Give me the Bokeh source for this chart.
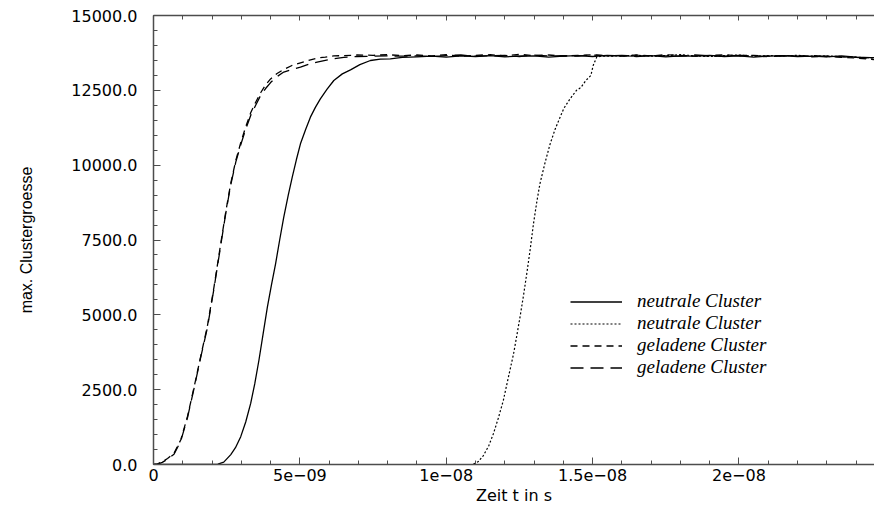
from bokeh.plotting import figure
from bokeh.models import (Range1d, FixedTicker, LinearAxis, PrintfTickFormatter)
from bokeh.embed import file_html
from bokeh.resources import INLINE

# ---- data (time in ns, size in cluster units) ----
T_NEUTRAL1 = [0.0, 2.0, 2.2, 2.4, 2.64, 2.8, 2.98, 3.15, 3.32, 3.46, 3.60, 3.75, 3.89, 4.03,
              4.17, 4.31, 4.45, 4.60, 4.74, 4.88, 5.02, 5.2, 5.36, 5.53, 5.70, 5.93, 6.16,
              6.45, 6.73, 7.05, 7.41, 7.75, 8.09, 8.5,
              9.0, 9.5, 10.0, 10.5, 11.0, 11.5, 12.0, 12.5, 13.0, 13.5, 14.0, 14.5, 15.0,
              15.5, 16.0, 16.5, 17.0, 17.5, 18.0, 18.5, 19.0, 19.5, 20.0, 20.5, 21.0, 21.5,
              22.0, 22.5, 23.0, 23.5, 24.0, 24.5, 24.7]
V_NEUTRAL1 = [0, 0, 10, 80, 330, 560, 930, 1420, 2040, 2700, 3474, 4400, 5256, 6000,
              6704, 7500, 8263, 8980, 9599, 10180, 10713, 11200, 11604, 11930, 12216, 12540, 12829,
              13050, 13185, 13360, 13497, 13540, 13552, 13600,
              13620, 13640, 13610, 13650, 13630, 13660, 13620, 13640, 13650, 13610, 13640, 13660, 13630,
              13670, 13650, 13640, 13660, 13620, 13650, 13640, 13670, 13630, 13650, 13610, 13640, 13660,
              13630, 13640, 13620, 13650, 13610, 13590, 13600]

T_NEUTRAL2 = [0.0, 10.9, 11.1, 11.27, 11.45, 11.61, 11.78, 11.95, 12.12, 12.30, 12.41, 12.52,
              12.64, 12.75, 12.87, 12.98, 13.09, 13.20, 13.38, 13.55, 13.72, 13.89, 14.02, 14.23,
              14.45, 14.60, 14.77, 14.94, 15.02, 15.14, 15.3,
              16.0, 16.5, 17.0, 17.5, 18.0, 18.5, 19.0, 19.5, 20.0, 20.5, 21.0, 21.5, 22.0, 22.5,
              23.0, 23.5, 24.0, 24.5, 24.7]
V_NEUTRAL2 = [0, 0, 100, 300, 620, 1024, 1550, 2138, 2900, 3697, 4300, 4922,
              5650, 6370, 7200, 8040, 8750, 9376, 10100, 10713, 11200, 11604, 11900, 12216,
              12500, 12595, 12829, 12996, 13330, 13608, 13640,
              13650, 13670, 13640, 13660, 13690, 13650, 13630, 13660, 13680, 13640, 13660, 13650, 13670, 13640,
              13650, 13630, 13610, 13580, 13570]

T_CHARGED1 = [0.0, 0.14, 0.3, 0.48, 0.70, 0.93, 1.16, 1.39, 1.61, 1.84, 2.07, 2.30, 2.47, 2.64,
              2.81, 2.98, 3.15, 3.32, 3.49, 3.66, 3.83, 4.0, 4.22, 4.45, 4.73, 5.02, 5.3, 5.59,
              5.87, 6.16, 6.5, 6.95, 7.5, 8.0, 8.5,
              9.0, 9.5, 10.0, 10.5, 11.0, 11.5, 12.0, 12.5, 13.0, 13.5, 14.0, 14.5, 15.0,
              15.5, 16.0, 16.5, 17.0, 17.5, 18.0, 18.5, 19.0, 19.5, 20.0, 20.5, 21.0, 21.5,
              22.0, 22.5, 23.0, 23.5, 24.0, 24.5, 24.7]
V_CHARGED1 = [0, 22, 90, 200, 370, 820, 1600, 2600, 3600, 4620, 5950, 7400, 8450, 9400,
              10150, 10750, 11280, 11750, 12100, 12420, 12680, 12880, 13060, 13200, 13330, 13420, 13500, 13580,
              13610, 13650, 13660, 13680, 13670, 13690, 13660,
              13680, 13650, 13690, 13640, 13670, 13690, 13650, 13700, 13660, 13680, 13640, 13670, 13690,
              13660, 13640, 13680, 13650, 13690, 13670, 13640, 13660, 13690, 13650, 13670, 13640, 13660,
              13650, 13620, 13640, 13600, 13580, 13540, 13520]

T_CHARGED2 = [0.0, 0.14, 0.3, 0.48, 0.70, 0.93, 1.16, 1.39, 1.61, 1.84, 2.07, 2.30, 2.47, 2.64,
              2.81, 2.98, 3.15, 3.32, 3.49, 3.66, 3.83, 4.0, 4.22, 4.45, 4.73, 5.02, 5.3, 5.59,
              5.87, 6.16, 6.5, 6.95, 7.5, 8.0, 8.5,
              9.0, 9.5, 10.0, 10.5, 11.0, 11.5, 12.0, 12.5, 13.0, 13.5, 14.0, 14.5, 15.0,
              15.5, 16.0, 16.5, 17.0, 17.5, 18.0, 18.5, 19.0, 19.5, 20.0, 20.5, 21.0, 21.5,
              22.0, 22.5, 23.0, 23.5, 24.0, 24.5, 24.7]
V_CHARGED2 = [0, 15, 70, 180, 340, 780, 1560, 2560, 3570, 4560, 5900, 7340, 8400, 9350,
              10100, 10680, 11200, 11660, 12000, 12330, 12560, 12760, 12960, 13110, 13200, 13274, 13370, 13441,
              13500, 13552, 13600, 13630, 13640, 13650, 13640,
              13650, 13630, 13660, 13680, 13640, 13650, 13670, 13630, 13680, 13650, 13660, 13640, 13680,
              13650, 13670, 13630, 13660, 13650, 13640, 13680, 13650, 13640, 13670, 13660, 13620, 13650,
              13640, 13660, 13630, 13620, 13600, 13570, 13560]

X_TICKS = [0, 5, 10, 15, 20]
X_TICK_LABELS = ["0", "5e\u221209", "1e\u221208", "1.5e\u221208", "2e\u221208"]
Y_TICKS = [0, 2500, 5000, 7500, 10000, 12500, 15000]
LEGEND_LABELS = ["neutrale Cluster", "neutrale Cluster", "geladene Cluster", "geladene Cluster"]

AX_COLOR = "#4d4d4d"
TICK_FONT = "DejaVu Sans"

p = figure(width=874, height=510, output_backend="svg", toolbar_location=None,
           x_range=Range1d(0, 24.63), y_range=Range1d(0, 15000),
           min_border_left=153, min_border_right=0, min_border_top=15, min_border_bottom=46)
p.outline_line_color = None
p.grid.visible = False
p.background_fill_color = "white"

x_minor = [i for i in range(0, 25)]
y_minor = [i * 500 for i in range(0, 31)]

bottom = p.below[0]
left = p.left[0]

bottom.ticker = FixedTicker(ticks=X_TICKS, minor_ticks=x_minor)
bottom.major_label_overrides = {t: l for t, l in zip(X_TICKS, X_TICK_LABELS)}
left.ticker = FixedTicker(ticks=Y_TICKS, minor_ticks=y_minor)
left.formatter = PrintfTickFormatter(format="%.1f")

top = LinearAxis(ticker=FixedTicker(ticks=X_TICKS, minor_ticks=x_minor),
                 major_label_text_font_size="0px", major_label_standoff=0,
                 major_label_text_alpha=0)
p.add_layout(top, "above")

for ax in (bottom, left, top):
    ax.axis_line_color = AX_COLOR
    ax.axis_line_width = 1.5
    ax.major_tick_line_color = AX_COLOR
    ax.minor_tick_line_color = AX_COLOR
    ax.major_tick_in = 7
    ax.major_tick_out = 0
    ax.minor_tick_in = 4
    ax.minor_tick_out = 0
    ax.axis_label_text_font_style = "normal"
    ax.axis_label_text_color = "black"
top.major_tick_in = 5

bottom.major_label_text_font = TICK_FONT
bottom.major_label_text_color = "black"
bottom.major_label_text_font_size = "16px"
bottom.major_label_standoff = 4
bottom.axis_label = "Zeit t in s"
bottom.axis_label_text_font = TICK_FONT
bottom.axis_label_text_font_size = "16px"
bottom.axis_label_standoff = 2

left.major_label_text_font = TICK_FONT
left.major_label_text_color = "black"
left.major_label_text_font_size = "16px"
left.major_label_standoff = 16
left.axis_label = "max. Clustergroesse"
left.axis_label_text_font = "Liberation Sans"
left.axis_label_text_font_size = "16px"
left.axis_label_standoff = 33

p.line(T_NEUTRAL1, V_NEUTRAL1, line_color="black", line_width=1.3, legend_label=LEGEND_LABELS[0])
p.line(T_NEUTRAL2, V_NEUTRAL2, line_color="black", line_width=1.2, line_dash="2 2",
       legend_label=LEGEND_LABELS[1] + " ")
p.line(T_CHARGED1, V_CHARGED1, line_color="black", line_width=1.3, line_dash="7 5",
       legend_label=LEGEND_LABELS[2])
p.line(T_CHARGED2, V_CHARGED2, line_color="black", line_width=1.3, line_dash="13 7",
       legend_label=LEGEND_LABELS[3] + " ")

lg = p.legend[0]
lg.location = (417, 86)
lg.border_line_color = None
lg.background_fill_alpha = 0
lg.padding = 0
lg.margin = 0
lg.spacing = 0
lg.glyph_width = 52
lg.glyph_height = 21
lg.label_height = 21
lg.label_standoff = 15
lg.label_text_font = "Liberation Serif"
lg.label_text_font_style = "italic"
lg.label_text_font_size = "19px"
lg.label_text_color = "black"

open("out.html", "w").write(file_html(p, INLINE))
